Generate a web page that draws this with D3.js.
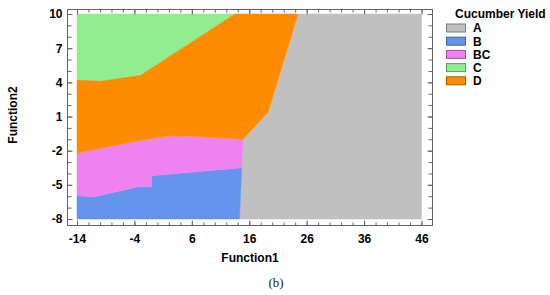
<!DOCTYPE html>
<html>
<head>
<meta charset="utf-8">
<script src="https://cdn.jsdelivr.net/npm/d3@7"></script>
<style>
  body { margin: 0; background: #fff; }
  text { font-family: "Liberation Sans", Arial, sans-serif; }
</style>
</head>
<body>
<div id="main"></div>
<script>
// Sizes
var svgWidth = 550;
var svgHeight = 295;

// frame of the plot box and the data area inside it
var frame = {l: 67, t: 9, r: 432, b: 225};
var plot = {l: 77, t: 14, r: 421.5, b: 219};

// Tick labels
var xTickValues = [-14, -4, 6, 16, 26, 36, 46];
var yTickValues = [10, 7, 4, 1, -2, -5, -8];

// Region categories and colours
var categories = ['A', 'B', 'BC', 'C', 'D'];
var categoryColors = ['#c0c0c0', '#6495ed', '#ee82ee', '#90ee90', '#ff8c00'];

// Region outlines in (Function1, Function2) space
var regionA = [[24.5, 10], [46, 10], [46, -8], [14.3, -8], [14.7, -3.5], [14.9, -1.0], [19.3, 1.4]];
var regionB = [[-14, -8], [14.3, -8], [14.7, -3.5], [-1, -4.2], [-1, -5.15], [-3.5, -5.2],
  [-11, -6.05], [-14, -5.95]];
var regionBC = [[-14, -5.95], [-11, -6.05], [-3.5, -5.2], [-1, -5.15], [-1, -4.2], [14.7, -3.5],
  [14.9, -1.0], [7, -0.75], [2, -0.7], [-3, -1.1], [-10, -1.8], [-14, -2.2]];
var regionC = [[-14, 4.2], [-10, 4.1], [-3, 4.6], [13.5, 10], [-14, 10]];
var regionD = [[-14, -2.2], [-10, -1.8], [-3, -1.1], [2, -0.7], [7, -0.75], [14.9, -1.0],
  [19.3, 1.4], [24.5, 10], [13.5, 10], [-3, 4.6], [-10, 4.1], [-14, 4.2]];

var regions = [regionA, regionB, regionBC, regionC, regionD];

var svg = d3.select('#main')
  .append('svg')
  .attr('width', svgWidth)
  .attr('height', svgHeight);

var xScale = d3.scaleLinear().domain([-14, 46]).range([plot.l, plot.r]);
var yScale = d3.scaleLinear().domain([-8, 10]).range([plot.b, plot.t]);

var colorScale = d3.scaleOrdinal().domain(categories).range(categoryColors);

var line = d3.line()
  .x(function(d) { return xScale(d[0]); })
  .y(function(d) { return yScale(d[1]); });

// filled regions
svg.selectAll('.region')
  .data(regions)
  .enter()
  .append('path')
  .attr('class', 'region')
  .attr('d', function(d) { return line(d) + 'Z'; })
  .attr('fill', function(d, i) { return colorScale(categories[i]); })
  .attr('stroke', function(d, i) { return colorScale(categories[i]); })
  .attr('stroke-width', 0.5);

// frame
svg.append('rect')
  .attr('x', frame.l + 0.5)
  .attr('y', frame.t + 0.5)
  .attr('width', frame.r - frame.l)
  .attr('height', frame.b - frame.t)
  .attr('fill', 'none')
  .attr('stroke', '#666')
  .attr('stroke-width', 1);

var xMinor = d3.range(-14, 47, 2);
var yMinor = d3.range(-8, 11, 1);

// plain hyphen minus like the original, not the unicode minus
var hyphenFormat = function(d) { return String(d); };

function drawAxis(axisFn, scale, values, size, transform, labels) {
  var g = svg.append('g')
    .attr('transform', transform)
    .call(axisFn(scale).tickValues(values).tickSize(size).tickFormat(labels ? hyphenFormat : ''));
  g.select('.domain').remove();
  g.selectAll('line').attr('stroke', '#666');
  return g;
}

// minor ticks, pointing inward on all four sides
drawAxis(d3.axisBottom, xScale, xMinor, -3, 'translate(0,' + (frame.b + 0.5) + ')', false);
drawAxis(d3.axisTop, xScale, xMinor, -3, 'translate(0,' + (frame.t + 0.5) + ')', false);
drawAxis(d3.axisLeft, yScale, yMinor, -4, 'translate(' + (frame.l + 0.5) + ',0)', false);
drawAxis(d3.axisRight, yScale, yMinor, -4, 'translate(' + (frame.r + 0.5) + ',0)', false);

// major ticks with labels
var xAxisG = drawAxis(d3.axisBottom, xScale, xTickValues, -5, 'translate(0,' + (frame.b + 0.5) + ')', true);
xAxisG.selectAll('text')
  .attr('y', 9)
  .attr('dy', '0.71em')
  .style('font-size', '12px')
  .style('font-weight', 'bold')
  .attr('fill', '#000');

var yAxisG = drawAxis(d3.axisLeft, yScale, yTickValues, -5, 'translate(' + (frame.l + 0.5) + ',0)', true);
yAxisG.selectAll('text')
  .attr('x', -5)
  .style('font-size', '12px')
  .style('font-weight', 'bold')
  .attr('fill', '#000');

drawAxis(d3.axisTop, xScale, xTickValues, -5, 'translate(0,' + (frame.t + 0.5) + ')', false);
drawAxis(d3.axisRight, yScale, yTickValues, -5, 'translate(' + (frame.r + 0.5) + ',0)', false);

// axis titles
svg.append('text')
  .text('Function1')
  .attr('x', 250)
  .attr('y', 262)
  .attr('text-anchor', 'middle')
  .style('font-size', '12px')
  .style('font-weight', 'bold');

svg.append('text')
  .text('Function2')
  .attr('transform', 'translate(17,115) rotate(-90)')
  .attr('text-anchor', 'middle')
  .style('font-size', '12px')
  .style('font-weight', 'bold');

// legend
var legend = svg.append('g').attr('transform', 'translate(446,0)');

legend.append('text')
  .text('Cucumber Yield')
  .attr('x', 9)
  .attr('y', 18)
  .style('font-size', '12px')
  .style('font-weight', 'bold');

var legendItem = legend.selectAll('.legend-item')
  .data(categories)
  .enter()
  .append('g')
  .attr('class', 'legend-item')
  .attr('transform', function(d, i) { return 'translate(0,' + (28 + i * 13.2) + ')'; });

legendItem.append('rect')
  .attr('x', 0.5)
  .attr('y', -4)
  .attr('width', 19)
  .attr('height', 8)
  .attr('fill', function(d) { return colorScale(d); })
  .attr('stroke', function(d) { return d3.color(colorScale(d)).darker(1.2); })
  .attr('stroke-width', 1);

legendItem.append('text')
  .text(function(d) { return d; })
  .attr('x', 27)
  .attr('dy', '0.36em')
  .style('font-size', '12px')
  .style('font-weight', 'bold');

// panel caption
svg.append('text')
  .text('(b)')
  .attr('x', 276)
  .attr('y', 287)
  .attr('text-anchor', 'middle')
  .style('font-family', '"Liberation Serif", "DejaVu Serif", serif')
  .style('font-size', '13px')
  .attr('fill', '#222');
</script>
</body>
</html>
